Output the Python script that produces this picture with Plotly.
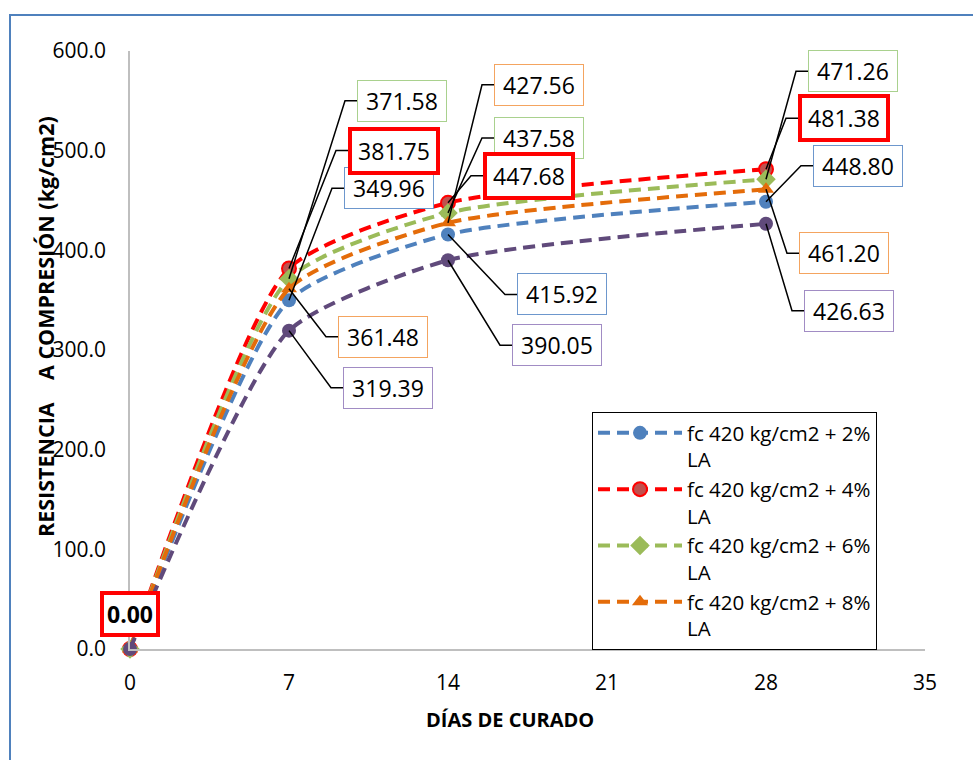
import plotly.graph_objects as go

# ---------------- data ----------------
days = [0, 7, 14, 28]
name_2 = "fc 420 kg/cm2 + 2%<br>LA"
name_4 = "fc 420 kg/cm2 + 4%<br>LA"
name_6 = "fc 420 kg/cm2 + 6%<br>LA"
name_8 = "fc 420 kg/cm2 + 8%<br>LA"
name_p = "fc 420 kg/cm2 patrón"
vals_p = [0.00, 319.39, 390.05, 426.63]
vals_2 = [0.00, 349.96, 415.92, 448.80]
vals_4 = [0.00, 381.75, 447.68, 481.38]
vals_6 = [0.00, 371.58, 437.58, 471.26]
vals_8 = [0.00, 361.48, 427.56, 461.20]
x_ticks = [0, 7, 14, 21, 28, 35]
y_ticks = [0, 100, 200, 300, 400, 500, 600]

# ---------------- layout / style ----------------
W, H = 973, 760
ML, MR, MT, MB = 130, 48, 51, 111
XMAX, YMAX = 35, 600
PX = (W - ML - MR) / XMAX          # px per day
PY = (H - MT - MB) / YMAX          # px per kg/cm2
FONT = "Open Sans"

# label offsets in px (dx to box left edge, dy to box centre; + is down) for days 7,14,28
styles = {
    "p": (name_p, vals_p, "#604A7B", "#604A7B", "#604A7B", "circle", "#A18CC4", 1,
          [(54, 57), (64, 85), (38, 87)], False),
    "2": (name_2, vals_2, "#4F81BD", "#4F81BD", "#4F81BD", "circle", "#6D97CD", 1,
          [(55, -112), (69, 60), (47, -36)], True),
    "4": (name_4, vals_4, "#FF0000", "#C0504D", "#FF0000", "circle", "#FF0000", 4,
          [(59, -118), (35, -27), (32, -51)], True),
    "6": (name_6, vals_6, "#9BBB59", "#9BBB59", "#9BBB59", "diamond", "#A9D18E", 1,
          [(68, -178), (46, -75), (42, -108)], True),
    "8": (name_8, vals_8, "#E46C0A", "#E46C0A", "#E46C0A", "triangle-up", "#F4A460", 1,
          [(49, 48), (46, -138), (33, 64)], True),
}

fig = go.Figure()
shapes = []
annotations = []

for key in ["2", "4", "6", "8", "p"]:
    name, vals, lc, mf, ml, sym, bc, bw, offs, leg = styles[key]
    fig.add_trace(go.Scatter(
        x=days, y=vals, name=name, mode="lines+markers",
        line=dict(color=lc, width=4, dash="12px,7px", shape="spline", smoothing=0.6),
        marker=dict(symbol=sym, size=14 if sym != "diamond" else 15, color=mf,
                    line=dict(color=ml, width=2 if key == "4" else 0)),
        showlegend=leg, cliponaxis=False,
    ))

# data labels with elbow leader lines
for key in ["p", "8", "2", "6", "4"]:
    name, vals, lc, mf, ml, sym, bc, bw, offs, leg = styles[key]
    for k in range(1, 4):
        d, v = days[k], vals[k]
        dx, dy = offs[k - 1]
        ex = d + dx / PX
        ey = v - dy / PY
        kx = d + (dx - 12) / PX
        shapes.append(dict(type="path", xref="x", yref="y", layer="above",
                           path=f"M{d},{v} L{kx},{ey} L{ex},{ey}",
                           line=dict(color="black", width=1.5)))
        annotations.append(dict(
            x=d, y=v, xref="x", yref="y", xanchor="left", yanchor="middle",
            xshift=dx, yshift=-dy, showarrow=False,
            text=f"{v:.2f}", font=dict(family=FONT, size=23, color="black"),
            bgcolor="white", bordercolor=bc, borderwidth=bw, borderpad=4,
            width=80 if bw == 1 else 76, align="center",
        ))

# day 0 label (red series on top)
annotations.append(dict(
    x=days[0], y=vals_4[0], xref="x", yref="y", xanchor="center", yanchor="middle",
    yshift=35, showarrow=False, text=f"<b>{vals_4[0]:.2f}</b>",
    font=dict(family=FONT, size=23, color="black"),
    bgcolor="white", bordercolor="#FF0000", borderwidth=4, borderpad=3,
))

# axis titles
annotations.append(dict(
    xref="paper", yref="paper", x=(510 - ML) / (W - ML - MR), y=-(719 - (H - MB)) / (H - MT - MB),
    text="<b>DÍAS DE CURADO</b>", showarrow=False,
    font=dict(family=FONT, size=20, color="black"), xanchor="center", yanchor="middle",
))
annotations.append(dict(
    xref="paper", yref="paper", x=(45 - ML) / (W - ML - MR), y=((H - MB) - 327) / (H - MT - MB),
    text="<b>RESISTENCIA\u00a0\u00a0\u00a0 A COMPRESIÓN (kg/cm2)</b>", textangle=-90, showarrow=False,
    font=dict(family=FONT, size=21.5, color="black"), xanchor="center", yanchor="middle",
))

# outer chart border (blue)
shapes.append(dict(type="rect", xref="paper", yref="paper",
                   x0=(10 - ML) / (W - ML - MR), x1=1.2,
                   y0=-0.4, y1=1 + (MT - 15) / (H - MT - MB),
                   line=dict(color="#4F81BD", width=2), layer="below"))

fig.update_layout(
    width=W, height=H, margin=dict(l=ML, r=MR, t=MT, b=MB),
    paper_bgcolor="white", plot_bgcolor="white",
    font=dict(family=FONT, color="black"),
    xaxis=dict(range=[0, XMAX], tickvals=x_ticks, ticktext=[str(t) for t in x_ticks],
               showgrid=False, zeroline=False, showline=True, linecolor="#BFBFBF",
               linewidth=1.5, ticks="", tickfont=dict(family=FONT, size=21, color="black"),
               ticklabelstandoff=14),
    yaxis=dict(range=[0, YMAX], tickvals=y_ticks, ticktext=[f"{t:.1f}" for t in y_ticks],
               showgrid=False, zeroline=False, showline=True, linecolor="#BFBFBF",
               linewidth=1.5, ticks="", tickfont=dict(family=FONT, size=21, color="black"),
               ticklabelstandoff=18),
    legend=dict(x=(592 - ML) / (W - ML - MR), y=((H - MB) - 412) / (H - MT - MB),
                xanchor="left", yanchor="top", bordercolor="black", borderwidth=1,
                bgcolor="white", font=dict(family=FONT, size=20.5, color="black"),
                valign="top", tracegroupgap=0, itemwidth=84),
    shapes=shapes, annotations=annotations,
)

fig.write_html("out.html")
